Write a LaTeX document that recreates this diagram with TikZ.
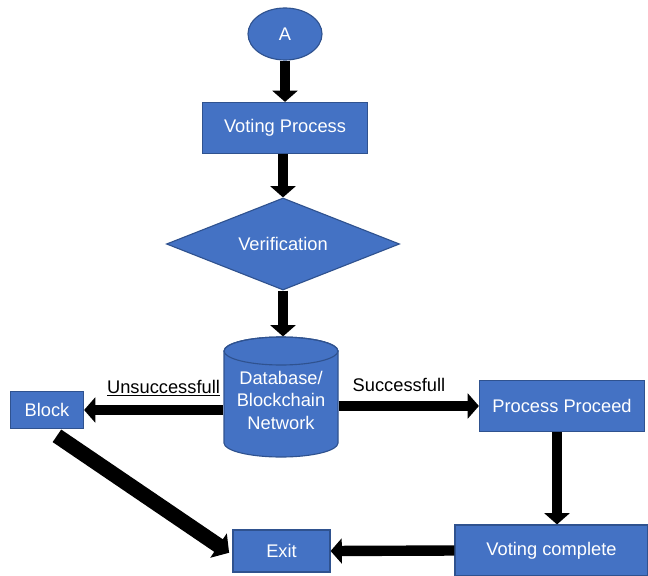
\documentclass[tikz,border=0pt]{standalone}
\usepackage{fontspec}
\setmainfont{Liberation Sans}
\usepackage{tikz}
\usetikzlibrary{arrows.meta, shapes.geometric, positioning, calc}
\definecolor{boxblue}{HTML}{4472C4}
\definecolor{boxedge}{HTML}{2F528F}
\tikzset{
    bluebox/.style={rectangle, fill=boxblue, draw=boxedge, line width=0.8pt, text=white,
        font=\fontsize{13}{16}\selectfont, inner sep=0pt, align=center},
    bigarrow/.style={line width=0.26cm, -{Triangle[length=0.28cm, width=0.62cm]}},
    fatarrow/.style={line width=0.38cm, -{Triangle[length=0.32cm, width=0.72cm]}},
    flowlabel/.style={font=\fontsize{13}{16}\selectfont, inner sep=1pt}
}

\begin{document}
\begin{tikzpicture}[x=0.025cm, y=0.025cm]
    \useasboundingbox (0,0) rectangle (648,-576);

    % Inizio
    \node[bluebox, ellipse, minimum width=1.85cm, minimum height=1.3cm] (start) at (285,-34) {A};
    \node[bluebox, minimum width=4.125cm, minimum height=1.275cm] (voting) at (285,-128) {Voting Process};
    \node[bluebox, diamond, aspect=2.53, minimum width=5.825cm, minimum height=2.3cm] (verif) at (283,-244) {Verification};

    % Database / blockchain (cilindro)
    \draw[fill=boxblue, draw=boxedge, line width=0.8pt] (224,-351) -- (224,-443)
        arc[start angle=180, end angle=360, x radius=57, y radius=14] -- (338,-351)
        arc[start angle=0, end angle=180, x radius=57, y radius=14] -- cycle;
    \draw[draw=boxedge, line width=0.8pt] (281,-351) ellipse[x radius=57, y radius=14];
    \node[bluebox, draw=none, fill=none, minimum width=2.85cm, minimum height=3cm] (db) at (281,-397)
        {\\[-2pt]Database/\\Blockchain\\Network};

    % Esiti
    \node[bluebox, minimum width=1.825cm, minimum height=0.925cm] (block) at (47,-410) {Block};
    \node[bluebox, minimum width=4.125cm, minimum height=1.275cm] (proceed) at (562,-406) {Process Proceed};
    \node[bluebox, minimum width=4.825cm, minimum height=1.275cm] (complete) at (551.5,-550.5) {Voting complete};
    \node[bluebox, minimum width=2.425cm, minimum height=1.05cm] (exit) at (281.5,-551) {Exit};

    % Frecce
    \draw[bigarrow] (start.south) -- (voting.north);
    \draw[bigarrow] (voting.south -| verif.north) -- (verif.north);
    \draw[bigarrow] (verif.south) -- (verif.south |- db.north);
    \draw[bigarrow] (db.west |- block) -- node[flowlabel, pos=0.43, above=0.17cm] (unsucc) {\underline{Unsuccessfull}} (block.east);
    \draw[bigarrow] (db.east |- proceed) -- node[flowlabel, pos=0.43, above=0.2cm] (succ) {Successfull} (proceed.west);
    \draw[bigarrow] (proceed.south -| 557,0) -- (complete.north -| 557,0);
    \draw[bigarrow] (complete.west) -- (exit.east);
    \draw[fatarrow, shorten <=0.3cm, shorten >=0.1cm] (block.south) -- ([yshift=-0.1cm]exit.west);

\end{tikzpicture}
\end{document}
